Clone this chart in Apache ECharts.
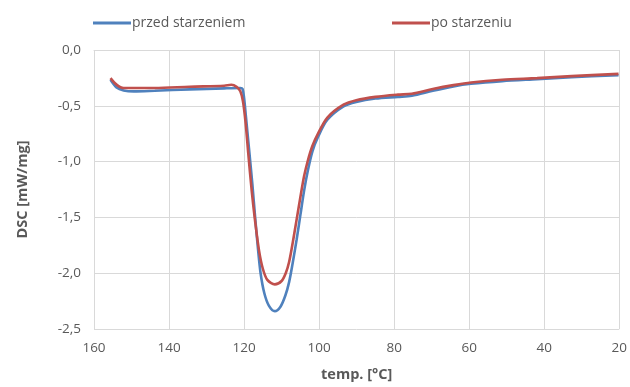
<!DOCTYPE html>
<html>
<head>
<meta charset="utf-8">
<script src="https://cdn.jsdelivr.net/npm/echarts@6/dist/echarts.min.js"></script>
<style>
  html, body { margin: 0; padding: 0; background: #fff; }
  #chart { width: 630px; height: 387px; }
</style>
</head>
<body>
<div id="chart"></div>
<script>
// DSC curves: temperature [°C] and heat flow [mW/mg]
const seriesNames = ['przed starzeniem', 'po starzeniu'];

const tempBefore = [155.6, 154.0, 152.1, 149.4, 143.8, 134.5, 125.3, 121.0, 120.4, 120.0, 119.5, 118.7, 117.8, 117.0, 116.3, 115.6, 114.6, 113.4, 111.8, 110.3, 109.0, 108.0, 107.0, 106.0, 105.0, 104.0, 103.0, 101.8, 100.3, 97.8, 93.5, 90.1, 85.0, 79.0, 75.3, 69.7, 64.2, 59.5, 51.2, 41.9, 32.7, 20.2];
const dscBefore  = [-0.267, -0.335, -0.362, -0.371, -0.365, -0.353, -0.344, -0.341, -0.35, -0.43, -0.60, -0.88, -1.20, -1.52, -1.78, -2.00, -2.18, -2.29, -2.34, -2.30, -2.20, -2.08, -1.90, -1.70, -1.48, -1.26, -1.08, -0.91, -0.78, -0.625, -0.505, -0.465, -0.435, -0.42, -0.41, -0.365, -0.326, -0.303, -0.279, -0.261, -0.243, -0.226];

const tempAfter = [155.6, 154.0, 152.1, 143.8, 134.5, 125.3, 123.4, 122.0, 121.0, 120.3, 119.6, 118.9, 118.0, 117.0, 116.0, 115.0, 113.8, 111.8, 110.0, 108.9, 108.0, 107.0, 106.0, 105.0, 104.0, 103.0, 101.8, 100.3, 97.8, 93.5, 90.1, 85.0, 79.0, 75.3, 69.7, 64.2, 59.5, 51.2, 41.9, 32.7, 20.2];
const dscAfter  = [-0.252, -0.31, -0.341, -0.341, -0.329, -0.32, -0.312, -0.33, -0.37, -0.46, -0.65, -0.92, -1.25, -1.55, -1.80, -1.96, -2.06, -2.10, -2.07, -2.00, -1.90, -1.72, -1.52, -1.32, -1.13, -0.99, -0.86, -0.75, -0.605, -0.49, -0.45, -0.42, -0.40, -0.392, -0.35, -0.315, -0.291, -0.267, -0.252, -0.234, -0.214];

const colors = ['#4F81BD', '#C0504D'];
const textColor = '#595959';
const gridColor = '#d9d9d9';
const font = 'Open Sans';

const pairs = (xs, ys) => xs.map((x, i) => [x, ys[i]]);

const chart = echarts.init(document.getElementById('chart'), null, { renderer: 'canvas' });

const legendBase = {
  top: 11,
  itemWidth: 38, itemHeight: 3, itemGap: 4,
  icon: 'rect',
  textStyle: { color: textColor, fontSize: 14, fontFamily: font, padding: [0, 0, 0, -4] }
};

chart.setOption({
  animation: false,
  textStyle: { fontFamily: font },
  legend: [
    Object.assign({ data: [seriesNames[0]], left: 88 }, legendBase),
    Object.assign({ data: [seriesNames[1]], left: 387 }, legendBase)
  ],
  grid: { left: 94, right: 7, top: 50, bottom: 55, containLabel: false },
  xAxis: {
    type: 'value',
    inverse: true,
    min: 20, max: 160, interval: 20,
    name: 'temp. [°C]',
    nameLocation: 'middle',
    nameGap: 38,
    nameTextStyle: { color: textColor, fontWeight: 'bold', fontSize: 14.5, fontFamily: font },
    axisLine: { show: true, lineStyle: { color: gridColor, width: 1 } },
    axisTick: { show: false },
    axisLabel: { color: textColor, fontSize: 13.5, fontFamily: font, margin: 12 },
    splitLine: { show: true, lineStyle: { color: gridColor, width: 1 } }
  },
  yAxis: {
    type: 'value',
    min: -2.5, max: 0, interval: 0.5,
    name: 'DSC [mW/mg]',
    nameLocation: 'middle',
    nameGap: 64,
    nameRotate: 90,
    nameTextStyle: { color: textColor, fontWeight: 'bold', fontSize: 14.5, fontFamily: font },
    axisLine: { show: false },
    axisTick: { show: false },
    axisLabel: {
      color: textColor, fontSize: 13.5, fontFamily: font, margin: 13,
      formatter: v => v.toFixed(1).replace('.', ',')
    },
    splitLine: { show: true, lineStyle: { color: gridColor, width: 1 } }
  },
  series: [
    {
      name: seriesNames[0],
      type: 'line',
      data: pairs(tempBefore, dscBefore),
      smooth: 0.3,
      showSymbol: false,
      lineStyle: { color: colors[0], width: 2.6 },
      itemStyle: { color: colors[0] },
      z: 2
    },
    {
      name: seriesNames[1],
      type: 'line',
      data: pairs(tempAfter, dscAfter),
      smooth: 0.3,
      showSymbol: false,
      lineStyle: { color: colors[1], width: 2.6 },
      itemStyle: { color: colors[1] },
      z: 3
    }
  ]
});
</script>
</body>
</html>
